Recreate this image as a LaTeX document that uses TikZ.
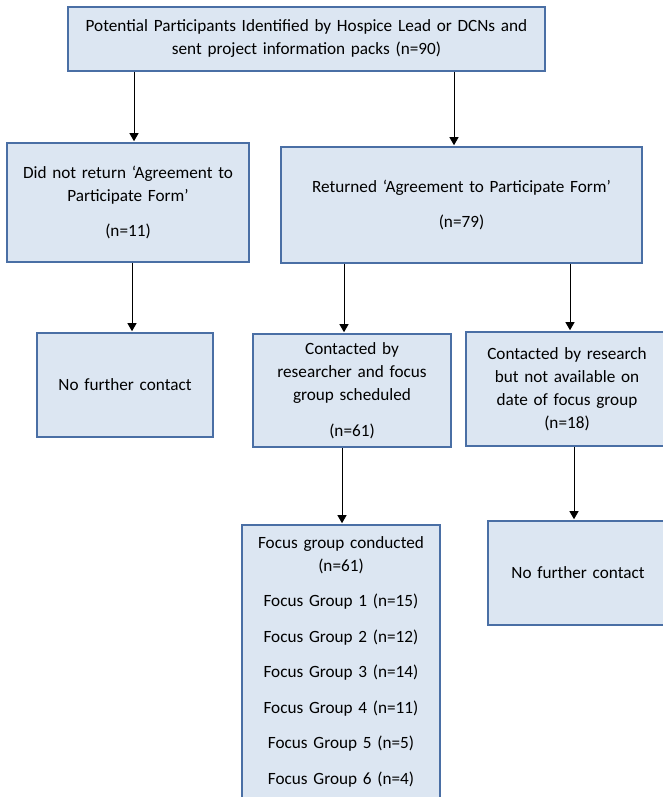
\documentclass[tikz,border=0pt]{standalone}
\usepackage{fontspec}
\setmainfont{Carlito}
\usetikzlibrary{arrows.meta}
\definecolor{boxfill}{HTML}{DCE6F2}
\definecolor{boxline}{HTML}{4A6FA5}
\newcommand{\pad}[1]{\par\vspace{#1pt}}

\begin{document}
\begin{tikzpicture}[x=1pt,y=-1pt,>={Triangle[width=9pt,length=8pt]},
    box/.style 2 args={draw=boxline,line width=1.6pt,fill=boxfill,inner sep=0pt,
      minimum width=#1pt,text width=#1pt,minimum height=#2pt,align=center,
      font=\fontsize{17.2}{23}\selectfont},
    arr/.style={->,line width=0.9pt,shorten >=1pt}]
    \useasboundingbox (0,0) rectangle (663,797) ;
    % top row
    \node [box={477}{64}] (P) at (306.5,39) {Potential Participants Identified by Hospice Lead or DCNs and\\ sent project information packs (n=90)\pad{5}} ;
    % second row
    \node [box={242}{119}] (N) at (128,202.5) {Did not return ‘Agreement to\\ Participate Form’\\[12pt] (n=11)\pad{13}} ;
    \node [box={361}{116}] (R) at (461.5,205) {Returned ‘Agreement to Participate Form’\\[12pt] (n=79)\pad{11}} ;
    % third row
    \node [box={176}{104}] (X1) at (125,385) {No further contact\pad{14}} ;
    \node [box={198}{113}] (S) at (352,390.5) {Contacted by\\ researcher and focus\\ group scheduled\\[13pt] (n=61)} ;
    \node [box={202}{114}] (U) at (567,389) {Contacted by research\\ but not available on\\ date of focus group\\ (n=18)\pad{8}} ;
    % bottom row
    \node [box={198}{273}] (G) at (341,661.5) {Focus group conducted\\ (n=61)\\[12.5pt]
      Focus Group 1 (n=15)\\[12.5pt] Focus Group 2 (n=12)\\[12.5pt] Focus Group 3 (n=14)\\[12.5pt]
      Focus Group 4 (n=11)\\[12.5pt] Focus Group 5 (n=5)\\[12.5pt] Focus Group 6 (n=4)} ;
    \node [box={180}{104}] (X2) at (578,573) {No further contact\pad{12}} ;
    % arrows
    \draw [arr] ([xshift=6pt]N.north |- P.south) -- ([xshift=6pt]N.north) ;
    \draw [arr] ([xshift=-7.5pt]R.north |- P.south) -- ([xshift=-7.5pt]R.north) ;
    \draw [arr] ([xshift=7pt]X1.north |- N.south) -- ([xshift=7pt]X1.north) ;
    \draw [arr] ([xshift=-8pt]S.north |- R.south) -- ([xshift=-8pt]S.north) ;
    \draw [arr] ([xshift=3pt]U.north |- R.south) -- ([xshift=3pt]U.north) ;
    \draw [arr] ([xshift=1pt]G.north |- S.south) -- ([xshift=1pt]G.north) ;
    \draw [arr] ([xshift=-4pt]X2.north |- U.south) -- ([xshift=-4pt]X2.north) ;
\end{tikzpicture}
\end{document}
